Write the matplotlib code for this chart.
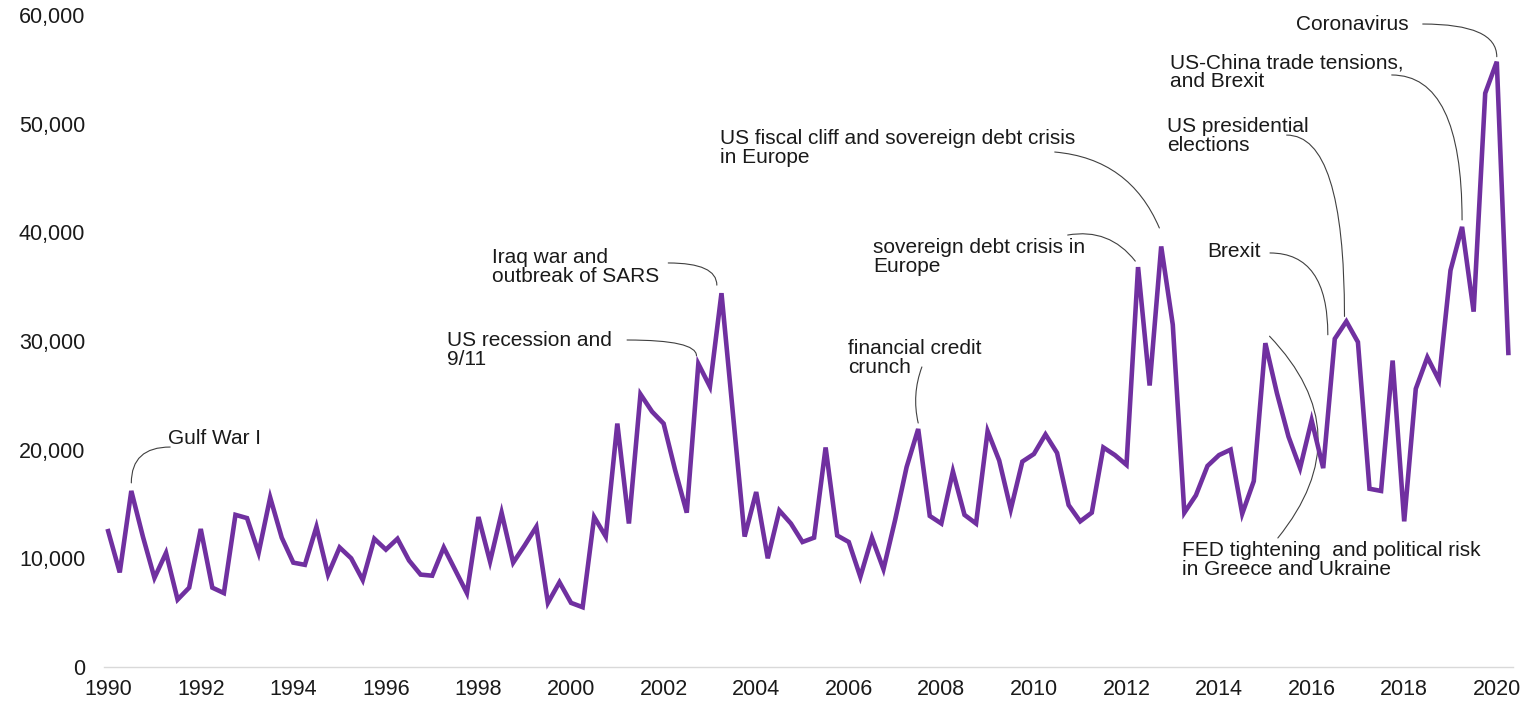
import matplotlib
matplotlib.use("Agg")
import matplotlib.pyplot as plt
import matplotlib.ticker as mticker
import numpy as np

plt.rcParams["font.family"] = ["Liberation Sans", "DejaVu Sans"]

# --- Data: quarterly values, 1990 Q1 .. 2020 Q2 ---
start_year = 1990
values = [
    12500, 8700, 16200, 12000, 8200, 10500, 6200, 7300,        # 1990-91
    12700, 7300, 6800, 14000, 13700, 10500, 15600, 11900,      # 1992-93
    9600, 9400, 12900, 8500, 11000, 10000, 8000, 11800,        # 1994-95
    10800, 11800, 9800, 8500, 8400, 11000, 8900, 6800,         # 1996-97
    13800, 9700, 14200, 9600, 11200, 12900, 5900, 7800,        # 1998-99
    5900, 5500, 13800, 12000, 22400, 13200, 25100, 23500,      # 2000-01
    22400, 18100, 14200, 27900, 25800, 34400, 23200, 12000,    # 2002-03
    16100, 10000, 14400, 13200, 11500, 11900, 20200, 12100,    # 2004-05
    11500, 8300, 11900, 9000, 13500, 18400, 21900, 13900,      # 2006-07
    13200, 18000, 14000, 13200, 21700, 19000, 14500, 18900,    # 2008-09
    19600, 21400, 19700, 14900, 13400, 14200, 20200, 19500,    # 2010-11
    18600, 36800, 25900, 38700, 31500, 14200, 15800, 18500,    # 2012-13
    19500, 20000, 14100, 17100, 29800, 25200, 21200, 18300,    # 2014-15
    22700, 18300, 30200, 31800, 29900, 16400, 16200, 28200,    # 2016-17
    13400, 25600, 28500, 26400, 36500, 40500, 32700, 52800,    # 2018-19
    55700, 28900,                                              # 2020
]
years = start_year + np.arange(len(values)) / 4.0

year_ticks = list(range(1990, 2021, 2))
value_ticks = [0, 10000, 20000, 30000, 40000, 50000, 60000]

# annotations: label, text position, data index, connector start, end offset, style
labels = [
    "Gulf War I",
    "US recession and\n9/11",
    "Iraq war and\noutbreak of SARS",
    "financial credit\ncrunch",
    "sovereign debt crisis in\nEurope",
    "US fiscal cliff and sovereign debt crisis\nin Europe",
    "Brexit",
    "US presidential\nelections",
    "US-China trade tensions,\nand Brexit",
    "Coronavirus",
    "FED tightening  and political risk\nin Greece and Ukraine",
]
label_pos = [
    (1991.30, 21070), (1997.32, 29170), (1998.29, 36810), (2005.98, 28430),
    (2006.52, 37730), (2003.22, 47760), (2013.74, 38190), (2012.87, 48860),
    (2012.94, 54750), (2015.66, 59080), (2013.20, 9850),
]
point_idx = [2, 51, 53, 70, 89, 91, 106, 107, 117, 120, 100]
conn_start = [
    (1991.34, 20240), (2001.21, 30090), (2002.10, 37180), (2007.58, 27610),
    (2010.73, 39750), (2010.45, 47390), (2015.10, 38100), (2015.46, 48950),
    (2017.73, 54480), (2018.40, 59170), (2015.27, 11870),
]
end_offset = [
    (0, 740), (-0.04, 740), (-0.1, 740), (0, 550),
    (-0.06, 550), (-0.04, 1700), (-0.15, 370), (-0.04, 460),
    (0, 640), (0, 460), (0.09, 640),
]
ang = "angle3,angleA=0,angleB=90"
conn_style = [ang, ang, ang, "arc3,rad=0.15", "arc3,rad=-0.3", "arc3,rad=-0.3",
              ang, ang, ang, ang, "arc3,rad=0.44"]

# --- Plot ---
fig = plt.figure(figsize=(15.34, 7.04), dpi=100)
ax = fig.add_axes([0.0678, 0.0526, 0.9185, 0.9261])

ax.plot(years, values, color="#7030A0", lw=3.3, solid_joinstyle="miter", zorder=3)

for lab, (tx, ty), i, (sx, sy), (ox, oy), cs in zip(
        labels, label_pos, point_idx, conn_start, end_offset, conn_style):
    ax.text(tx, ty, lab, ha="left", va="center", fontsize=15,
            linespacing=0.95, color="#1a1a1a", zorder=4)
    ax.annotate("", xy=(years[i] + ox, values[i] + oy), xytext=(sx, sy),
                arrowprops=dict(arrowstyle="-", color="#404040", lw=0.8,
                                connectionstyle=cs, shrinkA=0, shrinkB=0),
                zorder=2)

# Axes and formatting
ax.set_xlim(1989.91, 2020.35)
ax.set_ylim(0, 60000)
ax.set_xticks(year_ticks)
ax.set_yticks(value_ticks)
ax.yaxis.set_major_formatter(mticker.FuncFormatter(lambda v, p: f"{int(v):,}"))
ax.tick_params(axis="both", length=0, labelsize=15.5, colors="#1a1a1a")
ax.tick_params(axis="y", pad=13.5)
ax.tick_params(axis="x", pad=9)
for side in ["top", "right", "left"]:
    ax.spines[side].set_visible(False)
ax.spines["bottom"].set_color("#d9d9d9")
ax.spines["bottom"].set_linewidth(1.0)

fig.savefig("out.png", dpi=100)
plt.close(fig)
